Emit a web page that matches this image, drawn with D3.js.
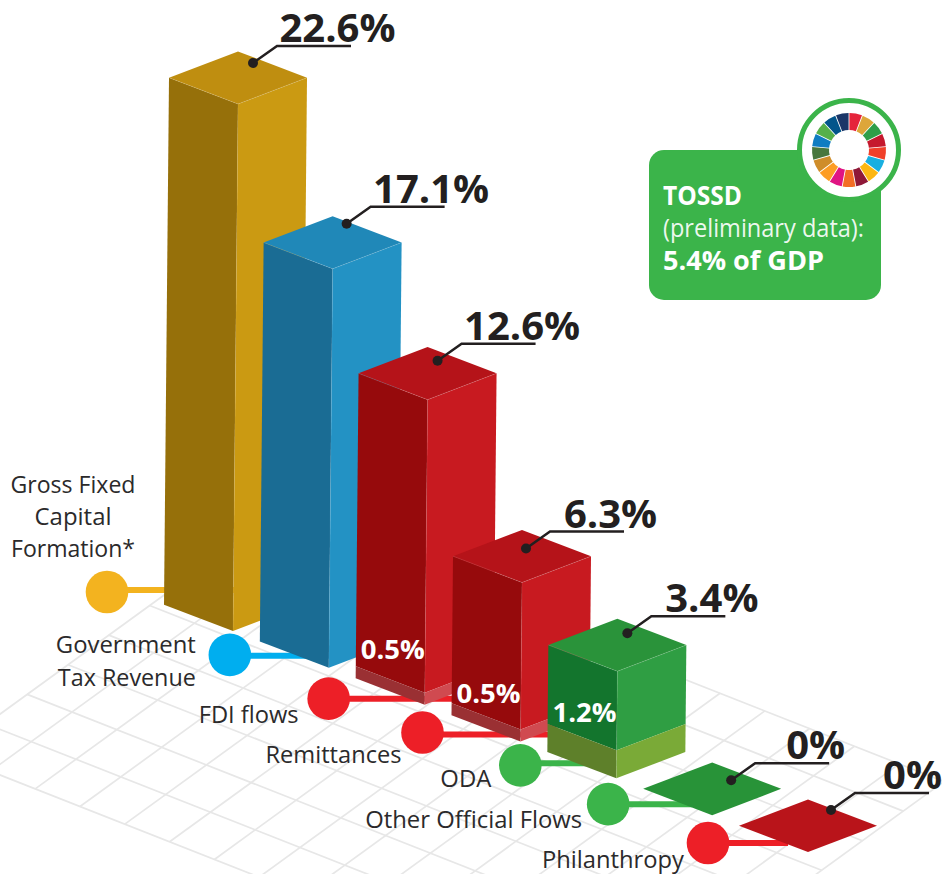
<!DOCTYPE html>
<html>
<head>
<meta charset="utf-8">
<script src="https://cdn.jsdelivr.net/npm/d3@7"></script>
<style>
html,body{margin:0;padding:0;background:#fff;overflow:hidden}
svg{display:block}
text{font-family:"Open Sans",sans-serif}
</style>
</head>
<body>
<div id="chart"></div>
<script>
// ---- data ----
const categories = ["Gross Fixed Capital Formation*","Government Tax Revenue","FDI flows","Remittances","ODA","Other Official Flows","Philanthropy"];
const values = [22.6,17.1,12.6,6.3,3.4,0,0];
const baseValues = [0,0,0.5,0.5,1.2,0,0];
const categoryLines = [["Gross Fixed","Capital","Formation*"],["Government","Tax Revenue"],["FDI flows"],["Remittances"],["ODA"],["Other Official Flows"],["Philanthropy"]];
const panelLines = ["TOSSD","(preliminary data):","5.4% of GDP"];
const sdgGoals = d3.range(1,18);
const sdgColors = ["#e5243b","#dda63a","#2f9e48","#c5192d","#f0402a","#19afe0","#fcb713","#8f1838","#f36d25","#e01483","#fd9d24","#cf8d2a","#48773e","#0f7dc2","#56b04a","#02558b","#1a3668"];

// ---- layout / style ----
const W = 942, H = 874;
const svg = d3.select("#chart").append("svg").attr("width",W).attr("height",H);

const xPos = d3.scalePoint().domain(categories).range([233,808]);
const yPos = d3.scalePoint().domain(categories).range([631,852]);
const heightScale = d3.scaleLinear()
  .domain([0,0.5,1.2,3.4,6.3,12.6,17.1,22.6])
  .range([0,12,28,107,159,305,399,527]);

const faces = [
 {left:"#96700a",right:"#cb9a12",top:"#bf8e10",dot:"#f3b31f"},
 {left:"#1a6c94",right:"#2392c4",top:"#2088b8",dot:"#00aeef"},
 {left:"#960a0c",right:"#c81a20",top:"#b51319",dot:"#ed1f27",bl:"#9a3033",br:"#d04a50"},
 {left:"#960a0c",right:"#c81a20",top:"#b51319",dot:"#ed1f27",bl:"#9a3033",br:"#d04a50"},
 {left:"#13752d",right:"#2f9e43",top:"#2a933a",dot:"#3bb44a",bl:"#5e802a",br:"#7aaa37"},
 {left:"#289338",right:"#289338",top:"#289338",dot:"#3bb44a"},
 {left:"#b9141a",right:"#b9141a",top:"#b9141a",dot:"#ed1f27"}
];
const halfW = 69, halfD = 26.3, lean = 0.0095;
const bubbleOffset = [[-126,-39],[-99,-13],[-96,-6],[-98,-9],[-96,-13],[-104,-11],[-100,-9]];
const connectorDy = [-2,1,0,2,-2,0,0];
const connectorEnd = [10,0,38,28,0,-20,-20];
const dotOffset = [[15,-41],[14,-45],[10,-39],[4,-34],[10,-38],[19,-35],[23,-42]];
const valueLabelDx = [0,0,0,0,0,0,-3];
const labelLayout = [
 {dx:-34,anchor:"middle",dy:[-99,-67,-35],len:[125,77,124]},
 {dx:-34,anchor:"end",dy:[-2,31],len:[140,138]},
 {dx:-30,anchor:"end",dy:[24],len:[100]},
 {dx:-21,anchor:"end",dy:[30],len:[136]},
 {dx:-29,anchor:"end",dy:[22],len:[51]},
 {dx:-26,anchor:"end",dy:[24],len:[217]},
 {dx:-24,anchor:"end",dy:[25],len:[142]}
];
const innerLabelDy = [0,0,-34,-27,-28,0,0];
const darkText = "#231f20";

// ---- ground grid ----
const gridOrigin=[72,712], stepA=[44.8,17.65], stepB=[-40.8,29.6];
const project=(i,j)=>[gridOrigin[0]+i*stepA[0]+j*stepB[0], gridOrigin[1]+i*stepA[1]+j*stepB[1]];
const gridI=d3.range(-1,15), gridJ=d3.range(-6,3);
const gridG=svg.append("g").attr("stroke","#e7e7e7").attr("stroke-width",1.7).attr("fill","none");
const line=d3.line();
gridI.forEach(i=>gridG.append("path").attr("d",line([project(i,gridJ[0]),project(i,gridJ[gridJ.length-1])])));
gridJ.forEach(j=>gridG.append("path").attr("d",line([project(gridI[0],j),project(gridI[gridI.length-1],j)])));

// ---- bars ----
const poly=(g,pts,fill)=>g.append("path").attr("d",line(pts)+"Z").attr("fill",fill);
const seam=(g,pts,op)=>g.append("path").attr("d",line(pts)).attr("fill","none").attr("stroke","#fff").attr("stroke-opacity",op).attr("stroke-width",0.6);

const rows = categories.map((c,k)=>({c,k,v:values[k],b:baseValues[k],x:xPos(c),y:yPos(c),f:faces[k]}));

rows.forEach(r=>{
  const g=svg.append("g").attr("class","category");
  const cx=r.x+bubbleOffset[r.k][0], cy=r.y+bubbleOffset[r.k][1];
  const ly=cy+connectorDy[r.k];
  g.append("path").attr("d",line([[cx,ly],[r.x+connectorEnd[r.k],ly]]))
    .attr("stroke",r.f.dot).attr("stroke-width",6).attr("fill","none");
  g.append("circle").attr("cx",cx).attr("cy",cy).attr("r",21.3).attr("fill",r.f.dot);

  const at=(hgt)=>{
    const px=r.x+hgt*lean, py=r.y-hgt;
    return {front:[px,py],left:[px-halfW,py-halfD],right:[px+halfW,py-halfD],back:[px,py-2*halfD]};
  };
  const h=heightScale(r.v), hb=heightScale(r.b);
  const top=at(h), bot=at(0), mid=at(hb);
  if(h>0){
    poly(g,[mid.left,top.left,top.front,mid.front],r.f.left);
    poly(g,[mid.front,top.front,top.right,mid.right],r.f.right);
    if(hb>0){
      poly(g,[bot.left,mid.left,mid.front,bot.front],r.f.bl);
      poly(g,[bot.front,mid.front,mid.right,bot.right],r.f.br);
    }
  }
  poly(g,[top.left,top.back,top.right,top.front],r.f.top);
  if(h>0){
    seam(g,[top.left,top.front,top.right],0.22);
    seam(g,[bot.front,top.front],0.12);
  }
  if(hb>0){
    g.append("text").attr("x",mid.front[0]).attr("y",mid.front[1]+innerLabelDy[r.k])
      .attr("text-anchor","end").attr("font-size",27.5).attr("font-weight",700).attr("fill","#fff")
      .text(d3.format(".1f")(r.b)+"%");
  }

  // leader + value label
  const d=[top.front[0]+dotOffset[r.k][0], top.front[1]+dotOffset[r.k][1]];
  const elbow=[d[0]+24,d[1]-17], end=[elbow[0]+74,elbow[1]];
  g.append("path").attr("d",line([d,elbow,end])).attr("fill","none").attr("stroke",darkText).attr("stroke-width",2.5);
  g.append("circle").attr("cx",d[0]).attr("cy",d[1]).attr("r",5).attr("fill",darkText);
  g.append("text").attr("x",elbow[0]+60.5+valueLabelDx[r.k]).attr("y",elbow[1]-4).attr("text-anchor","middle")
    .attr("font-size",40).attr("font-weight",700).attr("fill",darkText)
    .text((r.v===0?"0":d3.format(".1f")(r.v))+"%");

  // category label
  const L=labelLayout[r.k];
  categoryLines[r.k].forEach((t,n)=>{
    g.append("text").attr("x",cx+L.dx).attr("y",cy+L.dy[n]).attr("text-anchor",L.anchor)
      .attr("font-size",24.5).attr("fill","#2b2a2b")
      .attr("textLength",L.len[n]).attr("lengthAdjust","spacingAndGlyphs").text(t);
  });
});

// ---- TOSSD panel ----
const panel=svg.append("g");
panel.append("rect").attr("x",649).attr("y",150).attr("width",232).attr("height",150).attr("rx",15).attr("fill","#3bb44a");
const pb=[{y:205,w:700,s:27,l:79,op:1},{y:237,w:400,s:25.5,l:201,op:.92},{y:270,w:700,s:27,l:161,op:1}];
panelLines.forEach((t,n)=>{
  panel.append("text").attr("x",663).attr("y",pb[n].y).attr("font-size",pb[n].s).attr("font-weight",pb[n].w)
    .attr("fill","#fff").attr("fill-opacity",pb[n].op)
    .attr("textLength",pb[n].l).attr("lengthAdjust","spacingAndGlyphs").text(t);
});
panel.append("circle").attr("cx",849).attr("cy",150).attr("r",49.5).attr("fill","#fff").attr("stroke","#3bb44a").attr("stroke-width",5);
const pie=d3.pie().value(1).sort(null).padAngle(0.02);
const arc=d3.arc().innerRadius(20).outerRadius(37);
panel.append("g").attr("transform","translate(849,150)")
  .selectAll("path").data(pie(sdgGoals)).join("path").attr("d",arc).attr("fill",(d,k)=>sdgColors[k]);
</script>
</body>
</html>
